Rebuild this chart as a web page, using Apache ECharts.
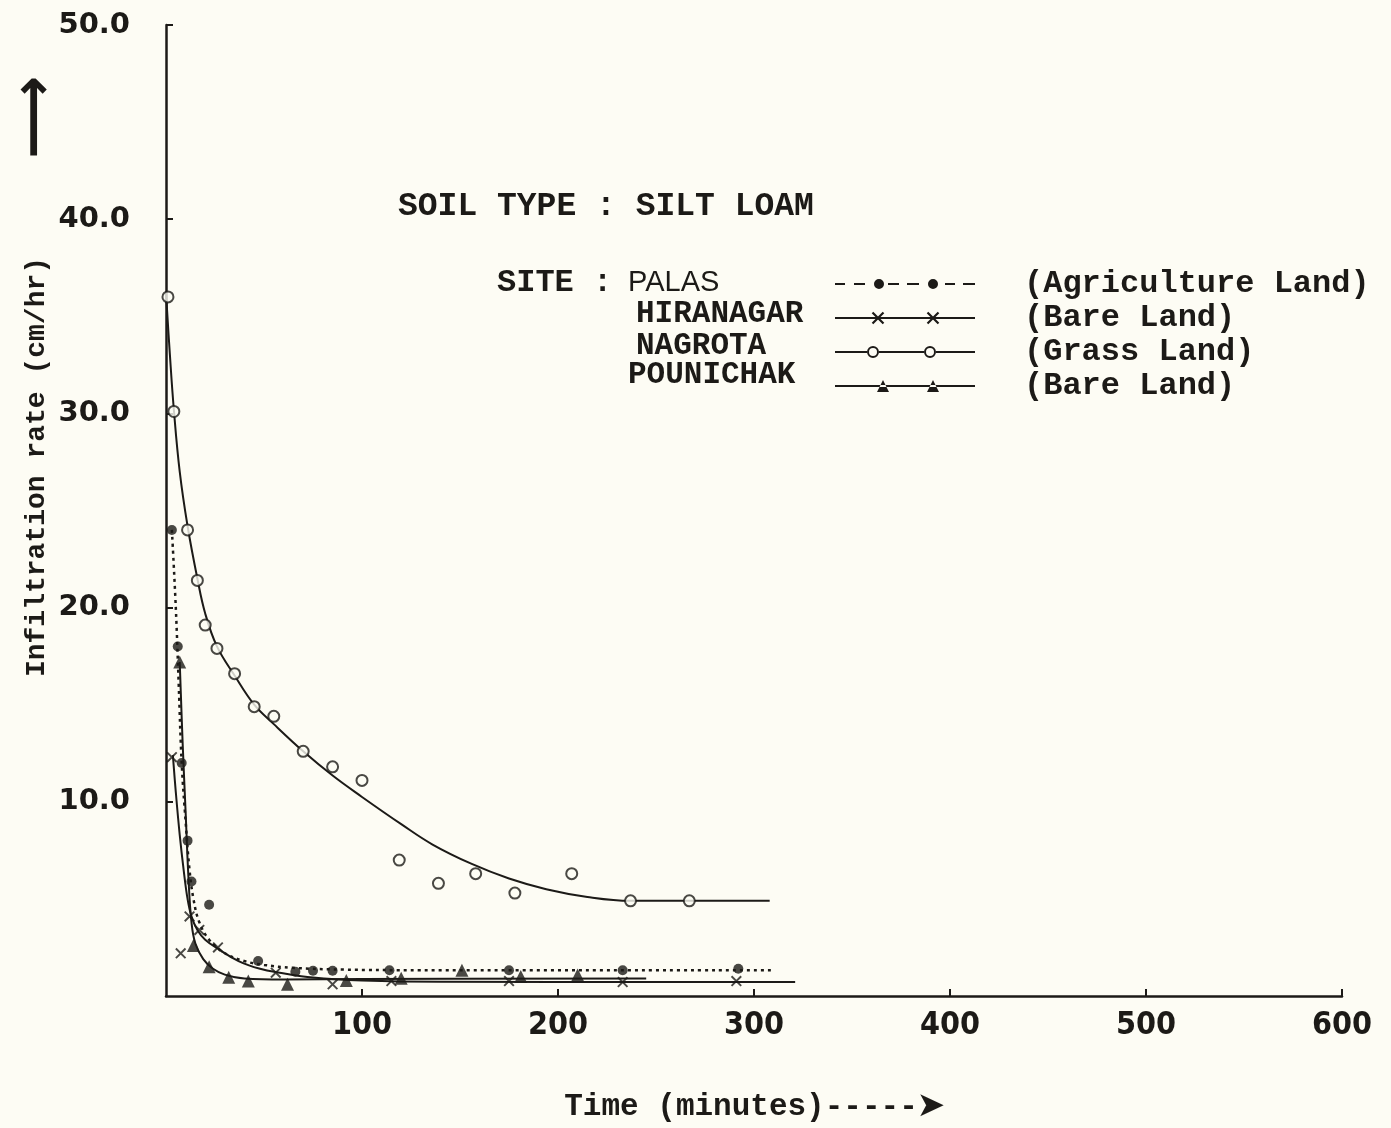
<!DOCTYPE html>
<html><head><meta charset="utf-8">
<script src="https://cdn.jsdelivr.net/npm/echarts@6/dist/echarts.min.js"></script>
<style>html,body{margin:0;padding:0;background:#fdfcf4}#c{width:1391px;height:1128px}</style>
</head><body><div id="c"></div><script>
// ---- data (time in minutes, infiltration rate in cm/hr) ----
const palasT = [3, 6, 8, 11, 13, 22, 47, 66, 75, 85, 114, 175, 233, 292];
const palasV = [24.0, 18.0, 12.0, 8.0, 5.9, 4.7, 1.8, 1.25, 1.3, 1.3, 1.33, 1.33, 1.33, 1.4];
const palasFitT = [3, 5, 6.5, 8, 10, 12, 14, 17, 22, 30, 40, 50, 65, 90, 130, 309];
const palasFitV = [24, 20, 16, 12, 9, 6.5, 5.0, 3.8, 2.9, 2.2, 1.8, 1.6, 1.45, 1.36, 1.33, 1.33];

const hiraT = [3, 7.5, 12, 17, 26.5, 56, 85, 115, 175, 233, 291];
const hiraV = [12.3, 2.2, 4.1, 3.4, 2.5, 1.2, 0.6, 0.77, 0.77, 0.72, 0.77];
const hiraFitT = [3.5, 5, 7, 9, 11, 13, 16, 20, 27, 37, 48, 58, 75, 100, 140, 321];
const hiraFitV = [12.4, 10.5, 8.3, 6.5, 5.0, 4.1, 3.4, 2.9, 2.4, 1.8, 1.4, 1.2, 0.95, 0.8, 0.73, 0.72];

const nagT = [1, 4, 11, 16, 20, 26, 35, 45, 55, 70, 85, 100, 119, 139, 158, 178, 207, 237, 267];
const nagV = [36.0, 30.1, 24.0, 21.4, 19.1, 17.9, 16.6, 14.9, 14.4, 12.6, 11.8, 11.1, 7.0, 5.8, 6.3, 5.3, 6.3, 4.9, 4.9];
const nagFitT = [0, 2, 4, 7, 11, 16, 20, 26, 35, 45, 55, 70, 85, 100, 120, 136, 156, 175, 194, 215, 237, 270, 308];
const nagFitV = [36.2, 33, 30.2, 27, 24.2, 21.5, 19.7, 18, 16.5, 15.0, 14.0, 12.6, 11.35, 10.25, 8.85, 7.8, 6.8, 6.05, 5.5, 5.1, 4.9, 4.9, 4.9];

const pouT = [7, 14, 22, 32, 42, 62, 92, 120, 151, 181, 210];
const pouV = [17.2, 2.6, 1.5, 0.97, 0.77, 0.6, 0.8, 0.92, 1.33, 1.0, 1.08];
const pouFitT = [7, 8.5, 10, 11.5, 13, 15, 19, 24, 30, 40, 60, 100, 245];
const pouFitV = [17.2, 13, 9.5, 6, 3.8, 2.7, 1.9, 1.4, 1.1, 0.9, 0.85, 0.88, 0.9];

const sites = ['PALAS', 'HIRANAGAR', 'NAGROTA', 'POUNICHAK'];
const landTypes = ['(Agriculture Land)', '(Bare Land)', '(Grass Land)', '(Bare Land)'];
const xTickLabels = ['100', '200', '300', '400', '500', '600'];
const yTickLabels = ['10.0', '20.0', '30.0', '40.0', '50.0'];

// ---- helpers ----
const zip = (a, b) => a.map((v, i) => [v, b[i]]);
const INK = '#1c1a17';
const BG = '#fdfcf4';
function rect(x0, x1, y0, y1) { return `M${x0},${y0}L${x1},${y0}L${x1},${y1}L${x0},${y1}Z`; }
function circ(cx, cy, r, sw) { return `M${cx - r},${cy}A${r},${r} 0 1,${sw} ${cx + r},${cy}A${r},${r} 0 1,${sw} ${cx - r},${cy}Z`; }
function cross(c, cy, h, t) {
  const d = t / Math.SQRT2;
  return `M${c - h + d},${cy - h - d}L${c + h + d},${cy + h - d}L${c + h - d},${cy + h + d}L${c - h - d},${cy - h + d}Z` +
         `M${c + h + d},${cy - h + d}L${c - h + d},${cy + h + d}L${c - h - d},${cy + h - d}L${c + h - d},${cy - h - d}Z`;
}
function tri(c, w, h, base) { return `M${c - w / 2},${base}L${c + w / 2},${base}L${c},${base - h}Z`; }
// legend sample icons (140 x 14 box)
const ly0 = 6.1, ly1 = 7.9;
const iconPalas = 'path://' + [[0, 10], [19, 30], [53, 64], [72, 84], [110, 120], [128, 140]].map(d => rect(d[0], d[1], ly0, ly1)).join('') + circ(44, 7, 5, 1) + circ(98, 7, 5, 1);
const iconHira = 'path://' + rect(0, 140, ly0, ly1) + cross(43, 7, 5.5, 1.1) + cross(98, 7, 5.5, 1.1);
const iconNag = 'path://' + rect(0, 38 - 6, ly0, ly1) + rect(38 + 6, 95 - 6, ly0, ly1) + rect(95 + 6, 140, ly0, ly1) +
  circ(38, 7, 6, 1) + circ(38, 7, 4, 0) + circ(95, 7, 6, 1) + circ(95, 7, 4, 0);
const iconPou = 'path://' + rect(0, 140, ly0, ly1) + tri(48, 12, 12, 13) + tri(98, 12, 12, 13);
const crossSymbol = 'path://' + cross(5, 5, 5, 1.0);

const chart = echarts.init(document.getElementById('c'), null, { renderer: 'canvas' });
const txt = (x, y, text, size, family, weight) => ({
  type: 'text', x: x, y: y,
  style: { text: text, fontSize: size, fontFamily: family, fontWeight: weight || 'bold', fill: INK, textVerticalAlign: 'middle', verticalAlign: 'middle' }
});

const option = {
  backgroundColor: BG,
  animation: false,
  grid: { left: 166, right: 49, top: 25, bottom: 130, containLabel: false },
  xAxis: {
    type: 'value', min: 0, max: 600, interval: 100,
    name: 'Time (minutes)-----➤', nameLocation: 'middle', nameGap: 96,
    nameTextStyle: { fontFamily: 'Liberation Mono', fontWeight: 'bold', fontSize: 31, color: INK },
    axisLine: { lineStyle: { color: INK, width: 2.5 } },
    axisTick: { inside: true, length: 7, lineStyle: { color: INK, width: 2 } },
    splitLine: { show: false },
    axisLabel: {
      showMinLabel: false, margin: 14, color: INK,
      fontFamily: '"DejaVu Sans Condensed", "DejaVu Sans", sans-serif', fontSize: 32, fontWeight: 'bold',
      formatter: v => { const i = xTickLabels.indexOf(String(v)); return i >= 0 ? xTickLabels[i] : ''; }
    }
  },
  yAxis: {
    type: 'value', min: 0, max: 50, interval: 10,
    axisLine: { show: true, lineStyle: { color: INK, width: 2.5 } },
    axisTick: { show: true, inside: true, length: 7, lineStyle: { color: INK, width: 2 } },
    splitLine: { show: false },
    axisLabel: {
      showMinLabel: false, margin: 36, color: INK,
      fontFamily: 'DejaVu Sans', fontSize: 29, fontWeight: 'bold',
      formatter: v => { const s = v.toFixed(1); return yTickLabels.indexOf(s) >= 0 ? s : ''; }
    }
  },
  legend: {
    orient: 'vertical', left: 830, top: 263, itemWidth: 140, itemHeight: 14, itemGap: 2,
    selectedMode: false, itemStyle: { borderWidth: 0 },
    data: [
      { name: sites[0], icon: iconPalas },
      { name: sites[1], icon: iconHira },
      { name: sites[2], icon: iconNag },
      { name: sites[3], icon: iconPou }
    ],
    formatter: n => '{g|}{t|' + landTypes[sites.indexOf(n)] + '}',
    textStyle: {
      lineHeight: 30,
      rich: {
        g: { width: 44 },
        t: { fontFamily: 'Liberation Mono', fontWeight: 'bold', fontSize: 32, color: INK, lineHeight: 30 }
      }
    }
  },
  graphic: [
    txt(398, 207, 'SOIL TYPE : SILT LOAM', 33, 'Liberation Mono'),
    txt(497, 283, 'SITE :', 32, 'Liberation Mono'),
    txt(628, 283, 'PALAS', 29, 'Liberation Sans', 'normal'),
    txt(636, 314, 'HIRANAGAR', 31, 'Liberation Mono'),
    txt(636, 346, 'NAGROTA', 31, 'Liberation Mono'),
    txt(628, 375, 'POUNICHAK', 31, 'Liberation Mono'),
    { type: 'text', x: 37, y: 467, rotation: Math.PI / 2, style: { text: 'Infiltration rate (cm/hr)', fontSize: 28, fontFamily: 'Liberation Mono', fontWeight: 'bold', fill: INK, textAlign: 'center', align: 'center', textVerticalAlign: 'middle', verticalAlign: 'middle' } },
    { type: 'text', x: 37, y: 117, rotation: Math.PI / 2, style: { text: '⟶', fontSize: 58, fontFamily: 'DejaVu Sans', fontWeight: 'bold', fill: INK, textAlign: 'center', align: 'center', textVerticalAlign: 'middle', verticalAlign: 'middle' } }
  ],
  series: [
    { name: sites[0], type: 'line', data: zip(palasFitT, palasFitV), smooth: 0.4, showSymbol: false, symbol: 'circle', color: INK, lineStyle: { color: INK, width: 2.5, type: [3, 4] }, z: 2 },
    { name: sites[0], type: 'scatter', data: zip(palasT, palasV), symbol: 'circle', symbolSize: 10, itemStyle: { color: INK }, z: 5 },
    { name: sites[1], type: 'line', data: zip(hiraFitT, hiraFitV), smooth: 0.4, showSymbol: false, symbol: 'circle', color: INK, lineStyle: { color: INK, width: 2 }, z: 2 },
    { name: sites[1], type: 'scatter', data: zip(hiraT, hiraV), symbol: crossSymbol, symbolSize: 11, itemStyle: { color: INK }, z: 5 },
    { name: sites[2], type: 'line', data: zip(nagFitT, nagFitV), smooth: 0.4, showSymbol: false, symbol: 'circle', color: INK, lineStyle: { color: INK, width: 2 }, z: 2 },
    { name: sites[2], type: 'scatter', data: zip(nagT, nagV), symbol: 'circle', symbolSize: 11, itemStyle: { color: BG, borderColor: INK, borderWidth: 2 }, z: 5 },
    { name: sites[3], type: 'line', data: zip(pouFitT, pouFitV), smooth: 0.4, showSymbol: false, symbol: 'circle', color: INK, lineStyle: { color: INK, width: 2 }, z: 2 },
    { name: sites[3], type: 'scatter', data: zip(pouT, pouV), symbol: 'triangle', symbolSize: 13, itemStyle: { color: INK }, z: 5 }
  ]
};
chart.setOption(option);
</script></body></html>
